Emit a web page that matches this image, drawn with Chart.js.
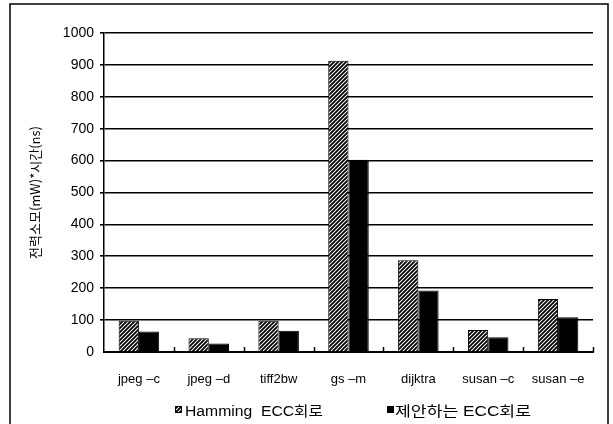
<!DOCTYPE html>
<html>
<head>
<meta charset="utf-8">
<script src="https://cdn.jsdelivr.net/npm/chart.js@4.4.1/dist/chart.umd.min.js"></script>
<style>
  html, body { margin: 0; padding: 0; background: #fff; }
  #wrap { width: 613px; height: 424px; position: relative; }
</style>
</head>
<body>
<div id="wrap"><canvas id="c" width="613" height="424"></canvas></div>
<script>
// Benchmarks on the x axis
const categories = ['jpeg \u2013c', 'jpeg \u2013d', 'tiff2bw', 'gs \u2013m', 'dijktra', 'susan \u2013c', 'susan \u2013e'];
// Power x time for each circuit
const hammingValues = [98, 43, 98, 913, 288, 69, 166];
const proposedValues = [64, 27, 67, 603, 193, 46, 109];
const seriesNames = ['Hamming  ECC\uD68C\uB85C', '\uC81C\uC548\uD558\uB294 ECC\uD68C\uB85C'];
const yTicks = [0, 100, 200, 300, 400, 500, 600, 700, 800, 900, 1000];
const yTitle = '\uC804\uB825\uC18C\uBAA8(mW)*\uC2DC\uAC04(ns)';

// Diagonal hatch fill for the Hamming bars
function makeHatch() {
  const p = document.createElement('canvas');
  p.width = 4; p.height = 4;
  const g = p.getContext('2d');
  g.fillStyle = '#fff';
  g.fillRect(0, 0, 4, 4);
  g.strokeStyle = '#000';
  g.lineWidth = 1.8;
  g.beginPath();
  g.moveTo(-1, 5); g.lineTo(5, -1);
  g.moveTo(-1, 1); g.lineTo(1, -1);
  g.moveTo(3, 5); g.lineTo(5, 3);
  g.stroke();
  return g.createPattern(p, 'repeat');
}
const ctx = document.getElementById('c').getContext('2d');
const hatch = makeHatch();

const LATIN = '"Liberation Sans", Arial, "Noto Sans CJK KR", sans-serif';

// Outer frame, inward category ticks and the legend row
const framePlugin = {
  id: 'frame',
  afterDraw(chart) {
    const c = chart.ctx;
    const x = chart.scales.x;
    const y = chart.scales.y;
    c.save();
    c.strokeStyle = '#000';
    c.lineWidth = 1.5;
    c.strokeRect(10, 4, 598, 430);
    // category separators on the x axis
    const step = x.getPixelForValue(1) - x.getPixelForValue(0);
    const base = y.getPixelForValue(0);
    for (let i = 0; i < categories.length; i++) {
      const px = x.getPixelForValue(i) + step / 2;
      c.beginPath();
      c.moveTo(Math.round(px) + 0.5, base);
      c.lineTo(Math.round(px) + 0.5, base - 5);
      c.stroke();
    }
    // legend
    const items = [
      { box: 175, textX: 185, width: 138 },
      { box: 387, textX: 395, width: 136 }
    ];
    const ds = chart.data.datasets;
    c.font = '14px ' + LATIN;
    c.textBaseline = 'middle';
    items.forEach((it, i) => {
      c.fillStyle = ds[i].backgroundColor;
      c.fillRect(it.box, 406, 7, 7);
      c.strokeStyle = '#000';
      c.lineWidth = 1;
      c.strokeRect(it.box + 0.5, 406.5, 6, 6);
      c.fillStyle = '#000';
      const label = ds[i].label;
      const w = c.measureText(label).width;
      c.save();
      c.translate(it.textX, 412);
      c.scale(it.width / w, 1);
      c.fillText(label, 0, 0);
      c.restore();
    });
    c.restore();
  }
};

new Chart(ctx, {
  type: 'bar',
  data: {
    labels: categories,
    datasets: [
      {
        label: seriesNames[0],
        data: hammingValues,
        backgroundColor: hatch,
        borderColor: '#000',
        borderWidth: 1
      },
      {
        label: seriesNames[1],
        data: proposedValues,
        backgroundColor: '#000',
        borderColor: '#000',
        borderWidth: 1
      }
    ]
  },
  options: {
    responsive: false,
    animation: false,
    devicePixelRatio: 1,
    layout: { padding: { left: 10, right: 20, top: 33, bottom: 36 } },
    datasets: { bar: { categoryPercentage: 0.58, barPercentage: 1 } },
    scales: {
      x: {
        grid: { display: false, drawTicks: false },
        border: { display: true, color: '#000', width: 2 },
        ticks: { color: '#000', font: { family: LATIN, size: 13 }, padding: 20, maxRotation: 0, autoSkip: false },
        afterFit(s) { s.height = 36; }
      },
      y: {
        min: 0, max: 1000,
        afterBuildTicks(s) { s.ticks = yTicks.map(v => ({ value: v })); },
        grid: {
          color: (c) => c.tick && c.tick.value === 0 ? 'rgba(0,0,0,0)' : '#000',
          lineWidth: 1.6,
          drawTicks: true,
          tickLength: 4
        },
        border: { display: true, color: '#000', width: 1.5 },
        ticks: { color: '#000', font: { family: LATIN, size: 14 }, padding: 6, callback: (v) => String(v) },
        title: {
          display: true,
          text: yTitle,
          color: '#000',
          font: { family: '"Noto Sans CJK KR", sans-serif', size: 13 },
          padding: { top: 17, bottom: 8 }
        },
        afterFit(s) { s.width = 94; }
      }
    },
    plugins: {
      legend: { display: false },
      tooltip: { enabled: false }
    }
  },
  plugins: [framePlugin]
});
</script>
</body>
</html>
